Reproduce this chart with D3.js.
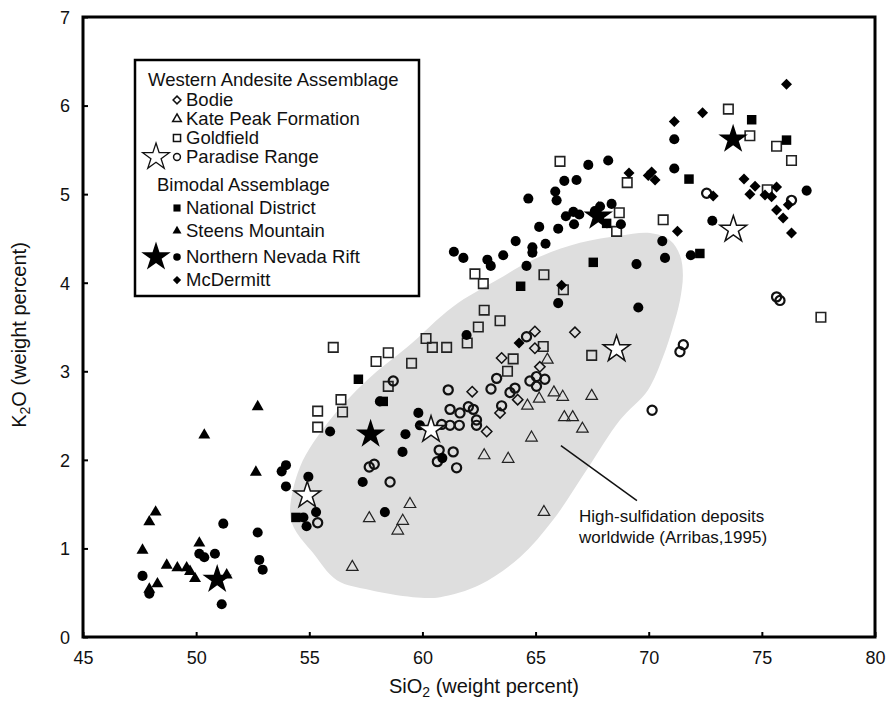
<!DOCTYPE html>
<html>
<head>
<meta charset="utf-8">
<title>K2O vs SiO2</title>
<script src="https://cdn.jsdelivr.net/npm/d3@7"></script>
<style>
body{margin:0;background:#fff;}
text{font-family:"Liberation Sans",Arial,Helvetica,sans-serif;fill:#111;}
</style>
</head>
<body>
<div id="chart"></div>
<script>
var W=888,H=701;
var margin={left:83,top:17,right:13,bottom:64};

// tick values
var xTicks=[45,50,55,60,65,70,75,80];
var yTicks=[0,1,2,3,4,5,6,7];

// [SiO2, K2O] pairs
var bodie=[[64.97,3.45],[66.74,3.44],[64.97,3.26],[63.50,3.15],[65.19,3.05],[62.20,2.77],[64.21,2.68],[63.43,2.53],[62.84,2.32]];
var katePeak=[[65.52,3.13],[65.81,2.76],[66.20,2.71],[67.48,2.72],[65.16,2.69],[64.64,2.61],[66.27,2.48],[66.64,2.48],[67.07,2.35],[64.82,2.25],[62.73,2.05],[63.79,2.01],[59.45,1.50],[57.65,1.34],[59.13,1.31],[58.91,1.20],[56.90,0.79],[65.37,1.41]];
var goldfield=[[56.06,3.27],[57.95,3.11],[58.49,3.21],[59.52,3.09],[60.16,3.37],[60.44,3.27],[61.07,3.27],[61.98,3.32],[62.47,3.50],[62.73,3.69],[63.43,3.57],[62.69,3.99],[64.01,3.14],[63.76,3.00],[58.49,2.83],[56.40,2.68],[56.47,2.54],[55.37,2.55],[55.37,2.37],[62.32,4.10],[65.37,4.09],[66.08,5.37],[66.23,3.92],[69.05,5.13],[70.64,4.71],[73.52,5.96],[74.47,5.66],[75.65,5.54],[76.31,5.38],[75.24,5.05],[68.70,4.79],[68.58,4.58],[77.61,3.61],[67.48,3.18],[65.34,3.28]];
var paradise=[[55.37,1.29],[58.57,1.75],[57.65,1.92],[57.87,1.95],[58.71,2.89],[61.14,2.79],[61.22,2.57],[61.66,2.53],[62.25,2.57],[62.03,2.60],[60.85,2.40],[61.22,2.39],[61.63,2.39],[62.39,2.45],[62.39,2.39],[60.74,2.11],[61.36,2.09],[60.66,1.98],[61.51,1.91],[63.28,2.92],[63.03,2.80],[63.50,2.61],[63.87,2.76],[64.09,2.81],[64.60,3.39],[64.75,2.89],[65.04,2.94],[65.41,2.91],[65.04,2.83],[75.65,3.84],[75.80,3.80],[71.53,3.30],[71.38,3.22],[72.56,5.01],[76.31,4.93],[70.15,2.56]];
var paradiseStars=[[54.91,1.60],[60.38,2.34],[68.58,3.25],[73.74,4.60]];
var national=[[57.17,2.91],[58.27,2.66],[54.41,1.35],[64.34,3.96],[67.55,4.23],[74.55,5.84],[76.09,5.61],[71.78,5.17],[72.26,4.33],[68.14,4.67]];
var steens=[[52.72,2.60],[50.36,2.28],[52.64,1.86],[48.21,1.41],[47.93,1.30],[47.63,0.98],[50.14,1.06],[48.70,0.81],[49.17,0.78],[49.58,0.78],[49.73,0.74],[49.95,0.66],[51.35,0.70],[48.29,0.60],[47.93,0.54]];
var rift=[[53.97,1.94],[53.78,1.87],[53.97,1.70],[51.20,1.28],[52.72,1.18],[50.83,0.94],[50.14,0.94],[50.36,0.90],[52.79,0.87],[52.94,0.76],[47.63,0.69],[47.93,0.49],[51.13,0.37],
  [54.96,1.81],[55.30,1.41],[54.74,1.35],[54.88,1.25],[55.92,2.32],[59.82,2.53],[59.89,2.39],[59.25,2.29],[59.12,2.09],[57.36,1.75],[58.34,1.41],[58.12,2.66],[61.95,3.41],[60.88,2.02],
  [61.39,4.35],[61.81,4.28],[62.87,4.26],[63.02,4.19],[63.57,4.31],[64.12,4.47],[64.68,4.95],[64.86,4.40],[64.86,4.34],[65.16,4.63],[64.60,4.19],[65.44,4.44],[65.87,5.03],[65.93,4.93],[66.00,4.61],[66.27,5.15],[66.34,4.75],[66.67,4.80],[66.70,4.66],[66.81,5.16],[67.33,5.33],[67.62,4.81],[67.85,4.86],[68.21,5.38],[68.36,4.89],[66.00,3.77],[66.93,4.77],[68.77,4.66],
  [71.13,5.62],[71.13,5.29],[72.81,4.70],[76.98,5.04],[69.46,4.21],[70.72,4.28],[70.60,4.47],[69.54,3.72],[71.86,4.31]];
var riftStars=[[57.71,2.29],[50.93,0.65],[67.77,4.75],[73.73,5.62]];
var mcdermitt=[[76.09,6.24],[72.38,5.92],[71.13,5.82],[69.13,5.24],[70.13,5.25],[70.28,5.16],[69.98,5.21],[72.85,4.98],[74.21,5.17],[74.70,5.09],[74.47,5.00],[75.14,4.99],[75.43,4.97],[75.65,5.08],[75.65,4.82],[75.94,4.73],[76.17,4.88],[76.31,4.56],[71.27,4.58],[66.15,3.97],[64.27,3.32]];

// outline of the high-sulfidation field (Arribas, 1995)
var fieldOutline=[[54.15,1.40],[54.59,1.92],[55.91,2.45],[57.55,2.90],[59.32,3.27],[61.35,3.73],[63.29,4.03],[64.89,4.26],[66.96,4.45],[68.73,4.53],[70.06,4.56],[70.94,4.48],[71.38,4.31],[71.51,4.09],[71.38,3.80],[71.07,3.50],[70.63,3.16],[69.97,2.79],[68.73,2.45],[67.27,1.89],[65.77,1.32],[64.31,0.90],[62.54,0.59],[60.78,0.45],[59.58,0.45],[57.68,0.53],[56.22,0.64],[55.16,0.95],[54.37,1.21]];

var w=W-margin.left-margin.right,h=H-margin.top-margin.bottom;

var svg=d3.select('#chart').append('svg')
  .attr('width',W).attr('height',H);

var g=svg.append('g').attr('transform','translate('+margin.left+','+margin.top+')');

var x=d3.scaleLinear().domain([45,80]).range([0,w]);
var y=d3.scaleLinear().domain([0,7]).range([h,0]);

//灰色區域
var area=d3.line().x(function(d){return x(d[0]);}).y(function(d){return y(d[1]);})
  .curve(d3.curveCatmullRomClosed.alpha(0.5));
g.append('path').attr('d',area(fieldOutline)).attr('fill','#dedede');

//標註線
g.append('line')
  .attr('x1',x(66.12)).attr('y1',y(2.16))
  .attr('x2',x(69.48)).attr('y2',y(1.54))
  .attr('stroke','#111').attr('stroke-width',1.5);
var note=g.append('text').attr('font-size',17);
note.append('tspan').attr('x',x(66.92)).attr('y',y(1.30)).text('High-sulfidation deposits');
note.append('tspan').attr('x',x(66.92)).attr('y',y(1.06)).text('worldwide (Arribas,1995)');

//符號
function diamond(s){
  return 'M0,'+(-s)+'L'+s+',0L0,'+s+'L'+(-s)+',0Z';
}
var sym={
  circle:d3.symbol().type(d3.symbolCircle).size(80)(),
  circleOpen:d3.symbol().type(d3.symbolCircle).size(66)(),
  square:d3.symbol().type(d3.symbolSquare).size(90)(),
  squareOpen:d3.symbol().type(d3.symbolSquare).size(90)(),
  triangle:d3.symbol().type(d3.symbolTriangle).size(62)(),
  triangleOpen:d3.symbol().type(d3.symbolTriangle).size(58)(),
  diamond:diamond(5.5),
  diamondOpen:diamond(5.2),
  star:d3.symbol().type(d3.symbolStar).size(270)(),
  starOpen:d3.symbol().type(d3.symbolStar).size(220)()
};

var series=[
  {data:goldfield,shape:'squareOpen',fill:'none',stroke:'#222',sw:1.6},
  {data:katePeak,shape:'triangleOpen',fill:'none',stroke:'#222',sw:1.2},
  {data:bodie,shape:'diamondOpen',fill:'none',stroke:'#111',sw:1.5},
  {data:paradise,shape:'circleOpen',fill:'none',stroke:'#111',sw:2.2},
  {data:national,shape:'square',fill:'#000',stroke:'none',sw:0},
  {data:steens,shape:'triangle',fill:'#000',stroke:'none',sw:0},
  {data:rift,shape:'circle',fill:'#000',stroke:'none',sw:0},
  {data:mcdermitt,shape:'diamond',fill:'#000',stroke:'none',sw:0},
  {data:paradiseStars,shape:'starOpen',fill:'#fff',stroke:'#111',sw:1.5},
  {data:riftStars,shape:'star',fill:'#000',stroke:'none',sw:0}
];

series.forEach(function(s){
  g.append('g').selectAll('path').data(s.data).enter().append('path')
    .attr('d',sym[s.shape])
    .attr('transform',function(d){return 'translate('+x(d[0])+','+y(d[1])+')';})
    .attr('fill',s.fill).attr('stroke',s.stroke).attr('stroke-width',s.sw);
});

//坐標軸
var xAxis=d3.axisBottom(x).tickValues(xTicks).tickSize(-5).tickPadding(14).tickFormat(d3.format('d'));
var yAxis=d3.axisLeft(y).tickValues(yTicks).tickSize(-5).tickPadding(13).tickFormat(d3.format('d'));
var gx=g.append('g').attr('transform','translate(0,'+h+')').call(xAxis);
var gy=g.append('g').call(yAxis);
[gx,gy].forEach(function(a){
  a.select('.domain').remove();
  a.selectAll('.tick line').attr('stroke','#000').attr('stroke-width',2);
  a.selectAll('.tick text').attr('font-size',18).attr('fill','#111')
    .style('font-family','"Liberation Sans",Arial,sans-serif');
});
gy.selectAll('.tick text').attr('dy','0.35em');
g.append('rect').attr('width',w).attr('height',h)
  .attr('fill','none').attr('stroke','#000').attr('stroke-width',3);

//軸標題
var xt=svg.append('text').attr('x',margin.left+w/2+5).attr('y',693)
  .attr('text-anchor','middle').attr('font-size',20);
xt.append('tspan').text('SiO');
xt.append('tspan').attr('font-size',14).attr('dy',4).text('2');
xt.append('tspan').attr('dy',-4).text(' (weight percent)');

var yt=svg.append('text').attr('transform','translate(26,'+(margin.top+h/2+8)+') rotate(-90)')
  .attr('text-anchor','middle').attr('font-size',20);
yt.append('tspan').text('K');
yt.append('tspan').attr('font-size',14).attr('dy',4).text('2');
yt.append('tspan').attr('dy',-4).text('O (weight percent)');

//圖例
var lg=svg.append('g');
lg.append('rect').attr('x',135).attr('y',60).attr('width',284).attr('height',236)
  .attr('fill','#fff').attr('stroke','#000').attr('stroke-width',2.5);
var legendHeads=[{label:'Western Andesite Assemblage',y:80},{label:'Bimodal Assemblage',y:185}];
var legendItems=[
  {label:'Bodie',y:100,shape:'diamondOpen',fill:'none',stroke:'#111'},
  {label:'Kate Peak Formation',y:119,shape:'triangleOpen',fill:'none',stroke:'#111'},
  {label:'Goldfield',y:138,shape:'squareOpen',fill:'none',stroke:'#111'},
  {label:'Paradise Range',y:157,shape:'circleOpen',fill:'none',stroke:'#111',star:'starOpen'},
  {label:'National District',y:208,shape:'square',fill:'#000',stroke:'none'},
  {label:'Steens Mountain',y:231,shape:'triangle',fill:'#000',stroke:'none'},
  {label:'Northern Nevada Rift',y:257,shape:'circle',fill:'#000',stroke:'none',star:'star'},
  {label:'McDermitt',y:280,shape:'diamond',fill:'#000',stroke:'none'}
];
lg.selectAll('text.head').data(legendHeads).enter().append('text')
  .attr('class','head').attr('x',function(d,i){return i==0?148:157;})
  .attr('y',function(d){return d.y;}).attr('dy','0.35em').attr('font-size',18.5).text(function(d){return d.label;});
var li=lg.selectAll('g.item').data(legendItems).enter().append('g').attr('class','item')
  .attr('transform',function(d){return 'translate(0,'+d.y+')';});
li.append('path').attr('transform','translate(177,0) scale(0.75)')
  .attr('d',function(d){return sym[d.shape];})
  .attr('fill',function(d){return d.fill;}).attr('stroke',function(d){return d.stroke;}).attr('stroke-width',2);
li.filter(function(d){return d.star;}).append('path').attr('transform','translate(156,0)')
  .attr('d',function(d){return sym[d.star];})
  .attr('fill',function(d){return d.star=='star'?'#000':'#fff';})
  .attr('stroke',function(d){return d.star=='star'?'none':'#111';}).attr('stroke-width',1.3);
li.append('text').attr('x',186).attr('dy','0.35em').attr('font-size',18.5).text(function(d){return d.label;});
</script>
</body>
</html>
